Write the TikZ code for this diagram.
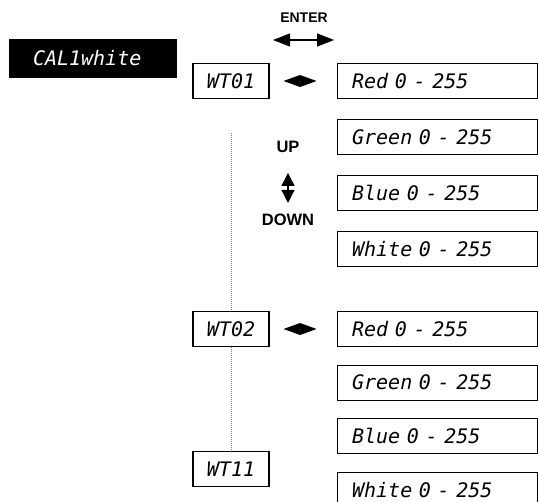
\documentclass[tikz,border=0pt]{standalone}
\usepackage{fontspec}
\setmainfont{Liberation Sans}
\newfontfamily\lcdfont{DejaVu Sans Mono}
\usetikzlibrary{arrows.meta,positioning}

\begin{document}
\begin{tikzpicture}[x=1pt, y=-1pt,
		lcd/.style     = {draw, line width=1.1pt, minimum height=35pt, inner sep=0pt, font=\lcdfont\itshape\fontsize{20}{20}\selectfont},
		wtbox/.style   = {lcd, minimum width=76pt},
		valbox/.style  = {lcd, minimum width=200pt, text width=170pt, align=left},
		title/.style   = {lcd, fill=black, text=white, minimum width=166pt, minimum height=37pt, text width=120pt, align=left},
		keylabel/.style = {inner sep=2pt, font=\bfseries\fontsize{14}{14}\selectfont},
		keyarrow/.style = {{Triangle[length=17pt,width=13pt]}-{Triangle[length=17pt,width=13pt]}, line width=1.3pt},
		selarrow/.style = {{Triangle[length=16.5pt,width=12pt]}-{Triangle[length=16.5pt,width=12pt]}, line width=0pt, shorten <=14pt, shorten >=20pt},
		dotline/.style  = {gray, line width=0.8pt, dash pattern=on 0.7pt off 1.3pt}]
	
	\useasboundingbox (0,0) rectangle (538,501);
	
	% menu title
	\node[title] (calwhite) at (93,58.5) {CAL1white};
	
	% key labels
	\node[keylabel] (enter) at (304,18) {ENTER};
	\coordinate (enterL) at (273,40);
	\coordinate (enterR) at (334,40);
	\draw[keyarrow] (enterL) -- (enterR);
	
	\begin{scope}[every node/.style={keylabel, font=\bfseries\fontsize{16.5}{16.5}\selectfont}]
		\node (up) at (288,147) {UP};
		\node (down) at (288,220) {DOWN};
	\end{scope}
	\draw[{Triangle[length=13pt,width=13pt]}-{Triangle[length=13pt,width=13pt]}, line width=1.3pt, shorten <=18pt, shorten >=9pt] (up) -- (down);
	
	% white presets
	\node[wtbox] (wt1) at (231,81) {WT01};
	\node[wtbox] (wt2) at (231,329) {WT02};
	\node[wtbox, below=104pt of wt2] (wt11) {WT11};
	
	% first colour of each preset
	\node[valbox, right=67pt of wt1] (red1) {Red 0 - 255};
	\node[valbox, right=67pt of wt2] (red2) {Red 0 - 255};
	
	% the other colours, relatively positioned
	\foreach \g/\gap in {1/20pt,2/17.5pt}
		\foreach \prev/\cur/\colname in {red/green/Green,green/blue/Blue,blue/white/White}
			\node[valbox, below=\gap of \prev\g] (\cur\g) {\colname\ 0 - 255};
	
	% preset <-> colour arrows
	\foreach \g in {1,2}
		\draw[selarrow] (wt\g) -- (red\g);
	
	% dotted list of presets
	\coordinate (listtop) at (231,133);
	\draw[dotline] (listtop) -- (wt2.north);
	\draw[dotline] (wt2.south) -- (wt11.north);
	
\end{tikzpicture}
\end{document}
